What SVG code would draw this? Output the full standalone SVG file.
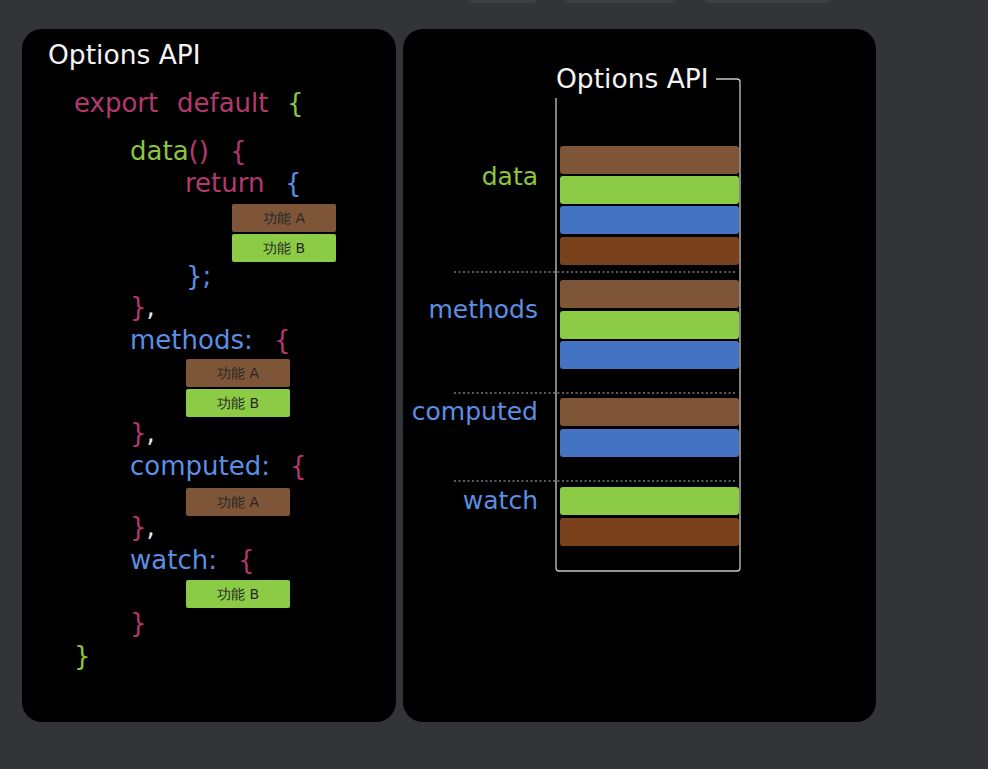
<svg xmlns="http://www.w3.org/2000/svg" width="988" height="769" viewBox="0 0 988 769">
<style>
text{font-family:"DejaVu Sans","Verdana",sans-serif;}
.title{fill:#f4f4f4;font-size:26.5px;}
.code{font-size:26px;}
.mg{fill:#b3396c;}
.gr{fill:#8cc540;}
.bl{fill:#5b8fe4;}
.wh{fill:#e8e8e8;}
.lbl{font-size:25px;text-anchor:end;}
.tag{font-size:14px;fill:#262626;text-anchor:middle;}
.bA{fill:#7e5637;}
.bB{fill:#8ccb45;}
.bC{fill:#4373c2;}
.bD{fill:#7a411d;}
.dot{stroke:#7a7a7a;stroke-width:1.4;stroke-dasharray:2 2.5;fill:none;}
</style>
<rect width="988" height="769" fill="#323437"/>
<g id="topbar" fill="#3d3f43">
<rect x="468" y="-6" width="68" height="9" rx="3"/>
<rect x="565" y="-6" width="110" height="9" rx="3"/>
<rect x="705" y="-6" width="125" height="9" rx="3"/>
</g>
<g id="left-panel">
<rect x="22" y="29" width="374" height="693" rx="20" fill="#000"/>
<text class="title" x="48" y="64">Options API</text>
<text class="code" y="112"><tspan class="mg" x="74">export</tspan><tspan class="mg" x="177">default</tspan><tspan class="gr" x="287">{</tspan></text>
<text class="code" y="160"><tspan class="gr" x="130">data</tspan><tspan class="mg">()</tspan><tspan class="mg" x="230">{</tspan></text>
<text class="code" y="192"><tspan class="mg" x="185">return</tspan><tspan class="bl" x="285">{</tspan></text>
<text class="code" y="285"><tspan class="bl" x="186">};</tspan></text>
<text class="code" y="316"><tspan class="mg" x="130">}</tspan><tspan class="wh">,</tspan></text>
<text class="code" y="349"><tspan class="bl" x="130">methods:</tspan><tspan class="mg" x="274">{</tspan></text>
<text class="code" y="442"><tspan class="mg" x="130">}</tspan><tspan class="wh">,</tspan></text>
<text class="code" y="475"><tspan class="bl" x="130">computed:</tspan><tspan class="mg" x="290">{</tspan></text>
<text class="code" y="536"><tspan class="mg" x="130">}</tspan><tspan class="wh">,</tspan></text>
<text class="code" y="569"><tspan class="bl" x="130">watch:</tspan><tspan class="mg" x="238">{</tspan></text>
<text class="code" y="632"><tspan class="mg" x="130">}</tspan></text>
<text class="code" y="665"><tspan class="gr" x="74">}</tspan></text>
</g>
<g id="data-A"><rect class="bA" x="232" y="204" width="104" height="28" rx="2"/><text class="tag" x="284" y="223">功能 A</text></g>
<g id="data-B"><rect class="bB" x="232" y="234" width="104" height="28" rx="2"/><text class="tag" x="284" y="253">功能 B</text></g>
<g id="methods-A"><rect class="bA" x="186" y="359" width="104" height="28" rx="2"/><text class="tag" x="238" y="378">功能 A</text></g>
<g id="methods-B"><rect class="bB" x="186" y="389" width="104" height="28" rx="2"/><text class="tag" x="238" y="408">功能 B</text></g>
<g id="computed-A"><rect class="bA" x="186" y="488" width="104" height="28" rx="2"/><text class="tag" x="238" y="507">功能 A</text></g>
<g id="watch-B"><rect class="bB" x="186" y="580" width="104" height="28" rx="2"/><text class="tag" x="238" y="599">功能 B</text></g>
<g id="right-panel">
<rect x="403" y="29" width="473" height="693" rx="20" fill="#000"/>
<text class="title" x="556" y="88">Options API</text>
<path d="M716 79 H737 Q740 79 740 82 V568 Q740 571 737 571 H559 Q556 571 556 568 V98" fill="none" stroke="#c8c8c8" stroke-width="1.3"/>
<text class="lbl gr" x="538" y="185">data</text>
<text class="lbl bl" x="538" y="318">methods</text>
<text class="lbl bl" x="538" y="420">computed</text>
<text class="lbl bl" x="538" y="509">watch</text>
<path class="dot" d="M454 272 H735 M454 393 H735 M454 481 H735"/>
</g>
<g id="bars">
<rect class="bA" x="560" y="146" width="179" height="28" rx="3"/>
<rect class="bB" x="560" y="176" width="179" height="28" rx="3"/>
<rect class="bC" x="560" y="206" width="179" height="28" rx="3"/>
<rect class="bD" x="560" y="237" width="179" height="28" rx="3"/>
<rect class="bA" x="560" y="280" width="179" height="28" rx="3"/>
<rect class="bB" x="560" y="311" width="179" height="28" rx="3"/>
<rect class="bC" x="560" y="341" width="179" height="28" rx="3"/>
<rect class="bA" x="560" y="398" width="179" height="28" rx="3"/>
<rect class="bC" x="560" y="429" width="179" height="28" rx="3"/>
<rect class="bB" x="560" y="487" width="179" height="28" rx="3"/>
<rect class="bD" x="560" y="518" width="179" height="28" rx="3"/>
</g>
</svg>
